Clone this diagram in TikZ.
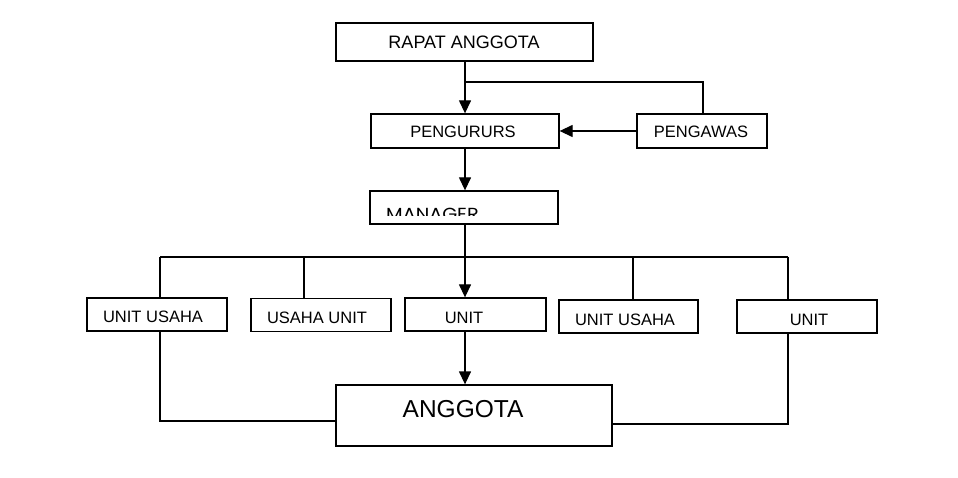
\documentclass[tikz,border=0pt]{standalone}
\usepackage{fontspec}
\usepackage{graphicx}
\setmainfont{Liberation Sans}
\newfontfamily\mgrfont{Poppins}
\usetikzlibrary{arrows.meta}
\tikzset{
  box/.style={draw=black, line width=1.3pt, rectangle, inner sep=0pt, fill=none},
  lbl/.style={anchor=base, inner sep=0pt, font=\fontsize{16.5}{18}\selectfont},
  conn/.style={draw=black, line width=1.3pt},
  arr/.style={conn, -{Triangle[length=13pt,width=12pt]}},
}
\begin{document}
\begin{tikzpicture}[x=1pt,y=-1pt]
\useasboundingbox[fill=white] (0,0) rectangle (958,478);
% boxes
\node[box, minimum width=257pt, minimum height=38pt] (rapat) at (464.5,42) {};
\node[box, minimum width=188pt, minimum height=34pt] (pengurus) at (465,131) {};
\node[box, minimum width=130pt, minimum height=34pt] (pengawas) at (702,131) {};
\node[box, minimum width=188pt, minimum height=33pt] (manager) at (464,207.5) {};
\node[box, minimum width=140pt, minimum height=33pt] (u1) at (157,314.5) {};
\node[box, minimum width=140pt, minimum height=33pt] (u2) at (321,315) {};
\node[box, minimum width=141pt, minimum height=33pt] (u3) at (475.5,314.5) {};
\node[box, minimum width=139pt, minimum height=33pt] (u4) at (628.5,316.5) {};
\node[box, minimum width=140pt, minimum height=33pt] (u5) at (807,316.5) {};
\node[box, minimum width=276pt, minimum height=61pt] (ang) at (474,415.5) {};
% labels
\node[lbl, font=\fontsize{18}{20}\selectfont] (trapat) at (464,49) {RAPAT ANGGOTA};
\node[lbl] (tpengurus) at (463,138) {PENGURURS};
\node[lbl] (tpengawas) at (701,138) {PENGAWAS};
\begin{scope}
\clip (371,192) rectangle (557,216);
\node[anchor=base west, inner sep=0pt, font=\mgrfont\fontsize{17.5}{19}\selectfont] (tmanager) at (386,220.5) {\scalebox{1.1}[1]{MANAGER}};
\end{scope}
\node[lbl] (tu1) at (153,322) {UNIT USAHA};
\node[lbl] (tu2) at (317,323) {USAHA UNIT};
\node[lbl] (tu3) at (464,323) {UNIT};
\node[lbl] (tu4) at (625,325) {UNIT USAHA};
\node[lbl] (tu5) at (809,325) {UNIT};
\node[lbl, font=\fontsize{24.5}{26}\selectfont] (tang) at (463,417) {ANGGOTA};
% coordinates
\coordinate (j1) at (465,82);
\coordinate (pw) at (703,82);
\coordinate (b1) at (160,257);
\coordinate (b2) at (304,257);
\coordinate (bm) at (465,257);
\coordinate (b4) at (633,257);
\coordinate (b5) at (788,257);
\coordinate (l1) at (160,421);
\coordinate (r5) at (788,424);
% connectors
\draw[arr] (rapat.south -| j1) -- (pengurus.north -| j1);
\draw[conn] (j1) -- (pw) -- (pengawas.north -| pw);
\draw[arr] (pengawas.west) -- (pengurus.east);
\draw[arr] (pengurus.south -| j1) -- (manager.north -| j1);
\draw[arr] (manager.south -| bm) -- (u3.north -| bm);
\draw[conn] (b1) -- (b5);
\draw[conn] (b1) -- (u1.north -| b1);
\draw[conn] (b2) -- (u2.north -| b2);
\draw[conn] (b4) -- (u4.north -| b4);
\draw[conn] (b5) -- (u5.north -| b5);
\draw[arr] (u3.south -| bm) -- (ang.north -| bm);
\draw[conn] (u1.south -| l1) -- (l1) -- (ang.west |- l1);
\draw[conn] (u5.south -| r5) -- (r5) -- (ang.east |- r5);
\end{tikzpicture}
\end{document}
